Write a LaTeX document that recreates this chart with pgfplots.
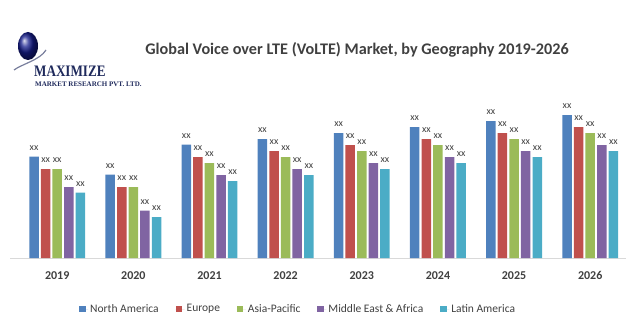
\documentclass[border=0pt]{standalone}
\usepackage{pgfplots}
\pgfplotsset{compat=1.18}
\usepackage{fontspec}
\setmainfont{Carlito}
\newfontfamily\logofont{Liberation Serif}
\definecolor{cNA}{HTML}{4F81BD}
\definecolor{cEU}{HTML}{C0504D}
\definecolor{cAP}{HTML}{9BBB59}
\definecolor{cME}{HTML}{8064A2}
\definecolor{cLA}{HTML}{4BACC6}
\definecolor{txt}{HTML}{404040}
\definecolor{navy}{HTML}{1F2A5C}
\begin{document}
\begin{tikzpicture}[x=1pt,y=1pt]
\path[use as bounding box] (0,0) rectangle (628,322);
% logo
\shade[ball color=navy!70!blue] (28,276) ellipse (10 and 14);
\draw[navy!60, line width=1.2pt] (14,252) .. controls (22,258) and (40,262) .. (46,272);
\node[anchor=west, inner sep=0, text=navy, xscale=0.82] at (34,251) {\logofont\bfseries\fontsize{16}{16}\selectfont MAXIMIZE};
\node[anchor=west, inner sep=0, text=navy] at (35,238) {\logofont\bfseries\fontsize{7}{7}\selectfont MARKET RESEARCH PVT. LTD.};
% title
\node[text=txt, inner sep=0] at (357,272) {\bfseries\fontsize{16.2}{16.2}\selectfont Global Voice over LTE (VoLTE) Market, by Geography 2019-2026};
\begin{axis}[
  at={(10pt,64pt)}, anchor=south west,
  scale only axis, width=616pt, height=160pt,
  xmin=-0.62, xmax=7.47, ymin=0, ymax=160,
  axis x line=bottom, axis y line=none,
  x axis line style={draw=black!15, -},
  xtick={0,...,7}, major tick length=0pt,
  xticklabels={\textbf{2019},\textbf{2020},\textbf{2021},\textbf{2022},\textbf{2023},\textbf{2024},\textbf{2025},\textbf{2026}},
  xticklabel style={text=txt, font=\fontsize{12}{12}\selectfont, yshift=-10pt},
  ybar=2.1pt, bar width=9.5pt,
  clip=false,
  nodes near coords={xx},
  every node near coord/.append style={font=\fontsize{10}{10}\selectfont, text=txt, yshift=3pt},
  legend style={at={(66pt,-51pt)}, anchor=west, draw=none, fill=none, legend columns=-1,
    font=\fontsize{11.5}{11.5}\selectfont, text=txt,
    /tikz/every even column/.append style={column sep=15pt}},
  legend image code/.code={\fill[#1] (0pt,-3pt) rectangle (6.5pt,3.5pt); \path (0pt,0pt) -- (9pt,0pt);},
]
\addplot[fill=cNA, draw=none] coordinates {(0,101.3) (1,83.3) (2,113.3) (3,119) (4,125) (5,131) (6,137) (7,143)};
\addplot[fill=cEU, draw=none] coordinates {(0,89) (1,71) (2,101) (3,107) (4,113) (5,119) (6,125) (7,131)};
\addplot[fill=cAP, draw=none] coordinates {(0,89) (1,71) (2,95) (3,101) (4,107) (5,113) (6,119) (7,125)};
\addplot[fill=cME, draw=none] coordinates {(0,71) (1,47.3) (2,83) (3,89) (4,95) (5,101) (6,107) (7,113)};
\addplot[fill=cLA, draw=none] coordinates {(0,65.3) (1,41) (2,77) (3,83) (4,89) (5,95) (6,101) (7,107)};
\legend{North America, Europe, Asia-Pacific, Middle East \& Africa, Latin America}
\end{axis}
\end{tikzpicture}
\end{document}
